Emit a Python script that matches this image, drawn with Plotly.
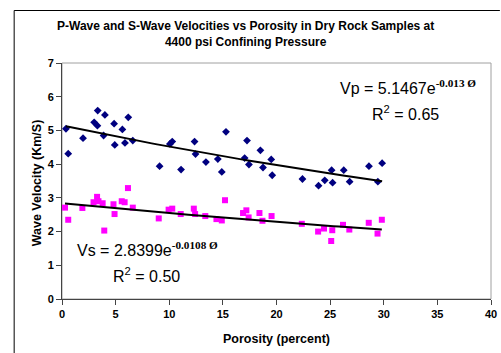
import numpy as np
import plotly.graph_objects as go

# ---- data ----
p_porosity = [0.37, 0.58, 1.96, 3.0, 3.3, 3.33, 4.0, 3.88, 4.86, 4.92, 5.63, 6.18, 5.87, 6.6,
              9.1, 10.06, 10.28, 11.1, 12.36, 12.45, 13.42, 14.53, 14.9, 15.29, 17.03, 17.25,
              17.43, 18.5, 18.74, 19.51, 19.6, 22.42, 23.92, 24.5, 25.14, 25.23, 26.27, 26.82,
              28.62, 29.45, 29.85]
p_velocity = [5.05, 4.31, 4.77, 5.24, 5.14, 5.59, 5.46, 4.85, 5.2, 4.57, 5.03, 5.39, 4.63, 4.7,
              3.94, 4.6, 4.67, 3.84, 4.67, 4.3, 4.06, 4.15, 3.77, 4.96, 4.18, 4.7,
              3.99, 4.41, 3.9, 4.14, 3.67, 3.56, 3.36, 3.52, 3.82, 3.45, 3.82, 3.48,
              3.94, 3.48, 4.03]
s_porosity = [0.28, 0.58, 1.9, 2.94, 3.27, 3.4, 3.79, 3.94, 4.8, 4.9, 5.57, 5.84, 6.15, 6.6,
              9.02, 9.94, 10.28, 11.07, 12.29, 12.41, 13.36, 14.4, 14.9, 15.2, 16.88, 17.19,
              17.4, 18.41, 18.69, 19.54, 22.36, 23.88, 24.43, 25.2, 25.1, 26.2, 26.79, 28.6,
              29.42, 29.82]
s_velocity = [2.71, 2.35, 2.7, 2.87, 3.03, 2.9, 2.84, 2.03, 2.81, 2.52, 2.9, 2.87, 3.29, 2.71,
              2.39, 2.65, 2.68, 2.52, 2.68, 2.52, 2.46, 2.37, 2.33, 2.93, 2.55, 2.63,
              2.42, 2.55, 2.32, 2.46, 2.23, 2.0, 2.09, 2.04, 1.72, 2.2, 2.06, 2.26,
              1.94, 2.35]
vp_a, vp_b = 5.1467, -0.013
vs_a, vs_b = 2.8399, -0.0108
x_ticks = [0, 5, 10, 15, 20, 25, 30, 35, 40]
y_ticks = [0, 1, 2, 3, 4, 5, 6, 7]

W, H = 501, 353
L, R, T, B = 62, 4, 63, 54
pw, ph = W - L - R, H - T - B

def px(x):
    return (x - L) / pw

def py(y):
    return (H - B - y) / ph

fig = go.Figure()

xp = np.linspace(min(p_porosity), max(p_porosity), 60)
xs = np.linspace(min(s_porosity), max(s_porosity), 60)

fig.add_trace(go.Scatter(x=p_porosity, y=p_velocity, mode="markers",
                         marker=dict(symbol="diamond", size=6, color="#000080"),
                         showlegend=False, hoverinfo="skip"))
fig.add_trace(go.Scatter(x=s_porosity, y=s_velocity, mode="markers",
                         marker=dict(symbol="square", size=6, color="#FF00FF"),
                         showlegend=False, hoverinfo="skip"))
fig.add_trace(go.Scatter(x=xp, y=vp_a * np.exp(vp_b * xp), mode="lines",
                         line=dict(color="black", width=2), showlegend=False, hoverinfo="skip"))
fig.add_trace(go.Scatter(x=xs, y=vs_a * np.exp(vs_b * xs), mode="lines",
                         line=dict(color="black", width=2), showlegend=False, hoverinfo="skip"))

font_main = "Liberation Sans, Arial, sans-serif"
tickfont = dict(family=font_main, size=11, color="black", weight="bold")

fig.update_xaxes(range=[0, 40], tickvals=x_ticks, ticktext=[str(v) for v in x_ticks],
                 showgrid=False, zeroline=False, showline=True, linecolor="#444444",
                 linewidth=1, ticks="outside", ticklen=5, tickcolor="#444444",
                 tickfont=tickfont, ticklabeloverflow="allow")
fig.update_yaxes(range=[0, 7], tickvals=y_ticks, ticktext=[str(v) for v in y_ticks],
                 showgrid=False, zeroline=False, showline=True, linecolor="#444444",
                 linewidth=1, ticks="outside", ticklen=5, tickcolor="#444444",
                 tickfont=tickfont, ticklabeloverflow="allow")

sup_style = "font-family:Liberation Serif, Times New Roman, serif;font-weight:bold"
annotations = [
    dict(text="P-Wave and S-Wave Velocities vs Porosity in Dry Rock Samples at<br>4400 psi Confining Pressure",
         x=px(248), y=py(33.5), font=dict(family=font_main, size=12, color="black", weight="bold")),
    dict(text="Wave Velocity (Km/S)", x=px(37), y=py(183), textangle=-90,
         font=dict(family=font_main, size=12.5, color="black", weight="bold")),
    dict(text="Porosity (percent)", x=px(280), y=py(339),
         font=dict(family=font_main, size=12.5, color="black", weight="bold")),
    dict(text=f"Vp = {vp_a}e<sup><span style='{sup_style}'>{vp_b} Ø</span></sup>",
         x=px(413), y=py(87), font=dict(family=font_main, size=16, color="black")),
    dict(text="R<sup>2</sup> = 0.65", x=px(410), y=py(113),
         font=dict(family=font_main, size=16, color="black")),
    dict(text=f"Vs = {vs_a}e<sup><span style='{sup_style}'>{vs_b} Ø</span></sup>",
         x=px(149), y=py(249), font=dict(family=font_main, size=16, color="black")),
    dict(text="R<sup>2</sup> = 0.50", x=px(148), y=py(275),
         font=dict(family=font_main, size=16, color="black")),
]
for a in annotations:
    a.update(xref="paper", yref="paper", xanchor="center", yanchor="middle",
             showarrow=False)

shapes = [
    # plot area border (grey top / right)
    dict(type="rect", xref="paper", yref="paper", x0=0, y0=0, x1=1, y1=1,
         line=dict(color="#a0a0a0", width=1), layer="below"),
    # outer chart border
    dict(type="path", xref="paper", yref="paper",
         path=f"M {px(13.5)} {py(H + 5)} L {px(13.5)} {py(10.5)} L {px(W + 5)} {py(10.5)}",
         line=dict(color="black", width=1)),
]

fig.update_layout(width=W, height=H, margin=dict(l=L, r=R, t=T, b=B),
                  paper_bgcolor="white", plot_bgcolor="white",
                  annotations=annotations, shapes=shapes,
                  font=dict(family=font_main))

fig.write_html("out.html")
